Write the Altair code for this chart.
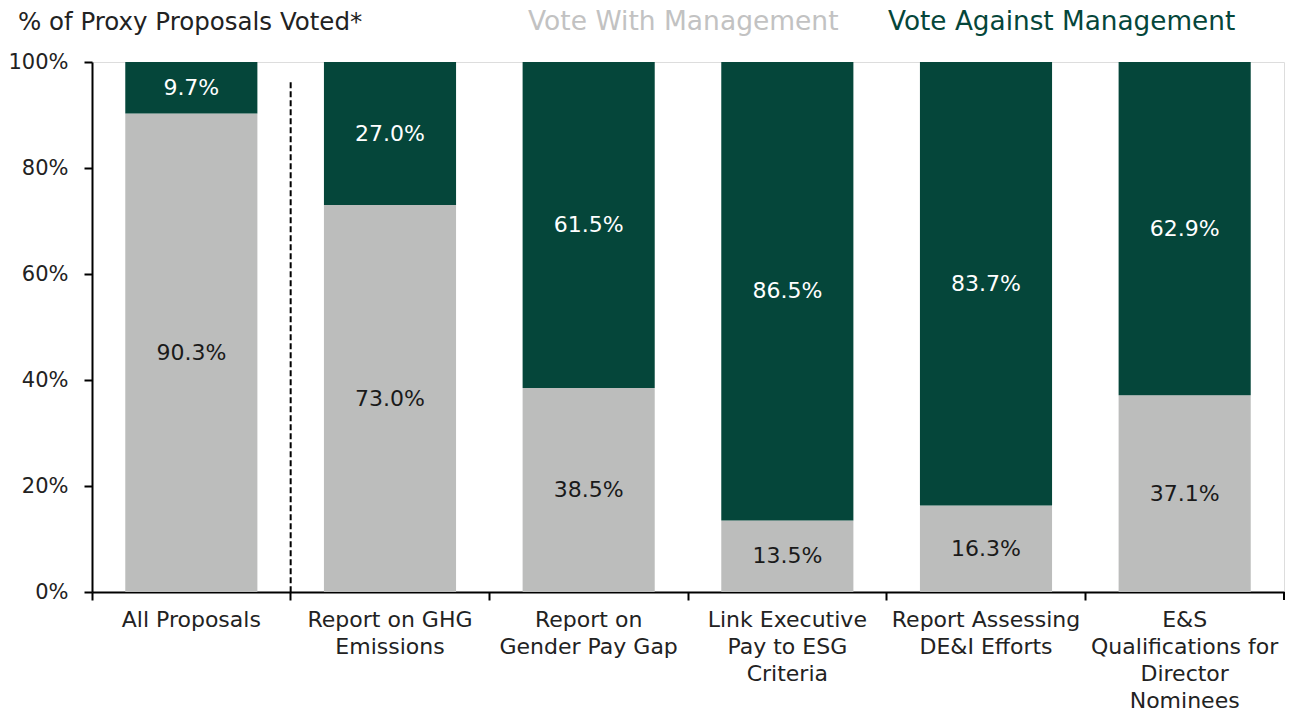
import altair as alt
import pandas as pd

categories = [
    "All Proposals",
    "Report on GHG Emissions",
    "Report on Gender Pay Gap",
    "Link Executive Pay to ESG Criteria",
    "Report Assessing DE&I Efforts",
    "E&S Qualifications for Director Nominees",
]
label_lines = [
    ["All Proposals"],
    ["Report on GHG", "Emissions"],
    ["Report on", "Gender Pay Gap"],
    ["Link Executive", "Pay to ESG", "Criteria"],
    ["Report Assessing", "DE&I Efforts"],
    ["E&S", "Qualifications for", "Director", "Nominees"],
]
vote_with = [90.3, 73.0, 38.5, 13.5, 16.3, 37.1]
vote_against = [9.7, 27.0, 61.5, 86.5, 83.7, 62.9]
series_names = ["Vote With Management", "Vote Against Management"]
series_colors = ["#bcbdbc", "#05463a"]
label_colors = ["#1a1a1a", "#ffffff"]
y_ticks = [0, 20, 40, 60, 80, 100]

FONT = "DejaVu Sans"
W, H = 1192, 530

rows = []
for i, c in enumerate(categories):
    rows.append({"cat": c, "series": series_names[0], "order": 0, "value": vote_with[i]})
    rows.append({"cat": c, "series": series_names[1], "order": 1, "value": vote_against[i]})
df = pd.DataFrame(rows)

label_map = {c: "|".join(l) for c, l in zip(categories, label_lines)}
label_expr = "split({" + ",".join(
    f"{repr(c)}: {repr(v)}" for c, v in label_map.items()
) + "}[datum.label], '|')"

x_enc = alt.X(
    "cat:N",
    sort=categories,
    title=None,
    scale=alt.Scale(paddingInner=0, paddingOuter=0),
    axis=alt.Axis(
        bandPosition=0,
        labelAngle=0,
        labelExpr=label_expr,
        labelFont=FONT,
        labelFontSize=22,
        labelColor="#222222",
        labelLineHeight=27,
        labelPadding=9,
        labelBaseline="top",
        labelLimit=400,
        labelOverlap=False,
        tickColor="#000000",
        tickWidth=2,
        tickSize=8,
        domainColor="#000000",
        domainWidth=2,
        grid=False,
    ),
)

y_scale = alt.Scale(domain=[0, 100], nice=False)

bars = alt.Chart(df).mark_bar(width={"band": 0.665}).encode(
    x=x_enc,
    y=alt.Y(
        "value:Q",
        stack="zero",
        scale=y_scale,
        title=None,
        axis=alt.Axis(
            values=y_ticks,
            labelExpr="datum.value + '%'",
            labelFont=FONT,
            labelFontSize=21,
            labelColor="#222222",
            labelPadding=16,
            tickColor="#000000",
            tickWidth=2,
            tickSize=8,
            domainColor="#000000",
            domainWidth=2,
            grid=False,
        ),
    ),
    color=alt.Color(
        "series:N",
        scale=alt.Scale(domain=series_names, range=series_colors),
        legend=None,
    ),
    order=alt.Order("order:Q"),
)

text = alt.Chart(df).transform_stack(
    stack="value", groupby=["cat"], as_=["y0", "y1"], sort=[alt.SortField("order")]
).transform_calculate(
    mid="(datum.y0 + datum.y1) / 2",
    lab="format(datum.value, '.1f') + '%'",
).mark_text(font=FONT, fontSize=22, baseline="middle", align="center").encode(
    x=alt.X("cat:N", sort=categories),
    y=alt.Y("mid:Q", scale=y_scale),
    text="lab:N",
    color=alt.Color(
        "series:N",
        scale=alt.Scale(domain=series_names, range=label_colors),
        legend=None,
    ),
)

divider_df = pd.DataFrame({"cat": [categories[1]], "top": [96.2], "bottom": [0]})
divider = alt.Chart(divider_df).mark_rule(
    color="#000000", strokeWidth=2, strokeDash=[6, 3]
).encode(
    x=alt.X("cat:N", sort=categories, bandPosition=0),
    y=alt.Y("top:Q", scale=y_scale),
    y2="bottom:Q",
)

end_tick = alt.Chart(pd.DataFrame({"a": [0]})).mark_rule(
    color="#000000", strokeWidth=2
).encode(x=alt.value(W), y=alt.value(H), y2=alt.value(H + 8))

header_df = pd.DataFrame({
    "txt": ["% of Proxy Proposals Voted*"] + series_names,
    "col": ["#222222"] + ["#c2c2c2", "#05463a"],
    "xp": [-74, 436, 796],
    "size": [24.5, 26.5, 26.3],
})
headers = alt.Chart(header_df).mark_text(
    font=FONT, align="left", baseline="alphabetic"
).encode(
    x=alt.X("xp:Q", scale=None),
    y=alt.value(-32),
    text="txt:N",
    color=alt.Color("col:N", scale=None),
    size=alt.Size("size:Q", scale=None),
)

chart = alt.layer(bars, text, divider, end_tick, headers).resolve_scale(
    color="independent"
).properties(
    width=W,
    height=H,
    autosize=alt.AutoSizeParams(type="none"),
    padding={"left": 84, "top": 54, "right": 2, "bottom": 120},
).configure_view(stroke=None).configure(font=FONT)

chart.save("out.html", embed_options={"renderer": "svg", "actions": False})
